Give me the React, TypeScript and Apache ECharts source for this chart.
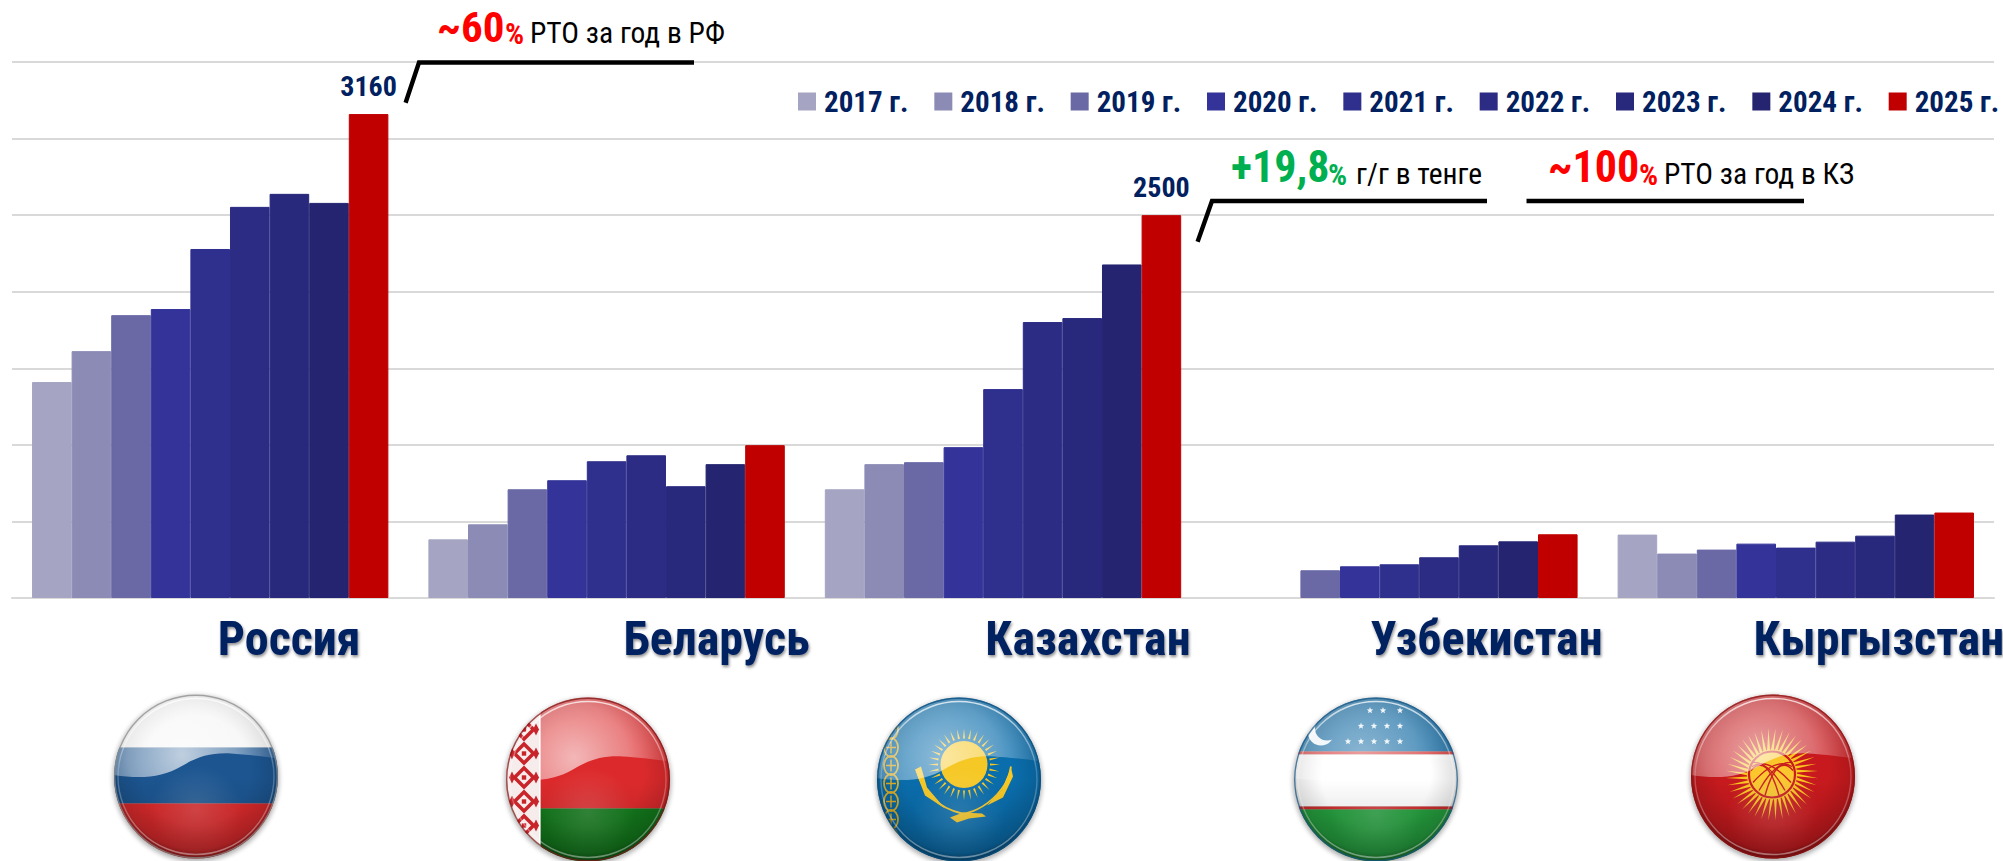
import React, { useEffect, useRef } from "react";
import * as echarts from "echarts";

const categories = ["Россия", "Беларусь", "Казахстан", "Узбекистан", "Кыргызстан"];
const labelShift = [79, 110, 85, 87, 83];
const years = ["2017 г.", "2018 г.", "2019 г.", "2020 г.", "2021 г.", "2022 г.", "2023 г.", "2024 г.", "2025 г."];
const colors = ["#A5A5C3", "#8B8BB6", "#6A69A6", "#333399", "#2F2F8E", "#2C2C85", "#28287D", "#242470", "#C00000"];

const v2017 = [1410, 383, 710, null, 414];
const v2018 = [1612, 481, 874, null, 290];
const v2019 = [1847, 710, 887, 181, 316];
const v2020 = [1887, 769, 985, 207, 355];
const v2021 = [2279, 893, 1364, 220, 329];
const v2022 = [2554, 932, 1802, 266, 368];
const v2023 = [2639, 730, 1828, 344, 407];
const v2024 = [2580, 874, 2178, 370, 545];
const v2025 = [3160, 998, 2500, 416, 558];
const allValues = [v2017, v2018, v2019, v2020, v2021, v2022, v2023, v2024, v2025];
const labelled = [3160, 2500];

const NARROW = "Roboto, sans-serif";
const NAVY = "#002060";

const R = 82;
const C = 88;

function wrap(body: string, gloss: number, rim: string, top: string = ""): string {
  const wave = `M${C - 90} ${C - 3} C${C - 60} ${C + 3} ${C - 35} ${C + 2} ${C - 15} ${C - 10} C${C + 2} ${C - 20} ${C + 15} ${C - 24} ${C + 35} ${C - 23} C${C + 50} ${C - 22} ${C + 70} ${C - 20} ${C + 90} ${C - 17} L${C + 90} ${C - 90} L${C - 90} ${C - 90} Z`;
  return (
    "data:image/svg+xml;charset=utf-8," +
    encodeURIComponent(`<svg xmlns="http://www.w3.org/2000/svg" width="176" height="176" viewBox="0 0 176 176">
<defs>
<clipPath id="c"><circle cx="${C}" cy="${C}" r="${R}"/></clipPath>
<filter id="s" x="-20%" y="-20%" width="140%" height="140%"><feGaussianBlur stdDeviation="2.5"/></filter>
<radialGradient id="g" gradientUnits="userSpaceOnUse" cx="${C - 14}" cy="${C - 22}" r="90">
<stop offset="0" stop-color="#fff" stop-opacity="${gloss}"/>
<stop offset="0.6" stop-color="#fff" stop-opacity="${gloss * 0.62}"/>
<stop offset="1" stop-color="#fff" stop-opacity="${gloss * 0.18}"/>
</radialGradient>
<radialGradient id="d" gradientUnits="userSpaceOnUse" cx="${C}" cy="${C - 6}" r="${R + 6}">
<stop offset="0.62" stop-color="#000" stop-opacity="0"/>
<stop offset="0.9" stop-color="#000" stop-opacity="0.12"/>
<stop offset="1" stop-color="#000" stop-opacity="0.38"/>
</radialGradient>
<linearGradient id="b" x1="0" y1="0" x2="0" y2="1">
<stop offset="0.5" stop-color="#000" stop-opacity="0"/>
<stop offset="1" stop-color="#000" stop-opacity="0.2"/>
</linearGradient>
<radialGradient id="h" gradientUnits="userSpaceOnUse" cx="${C}" cy="${C + 34}" r="46">
<stop offset="0" stop-color="#fff" stop-opacity="0.14"/>
<stop offset="1" stop-color="#fff" stop-opacity="0"/>
</radialGradient>
<linearGradient id="r" x1="0" y1="0" x2="0" y2="1">
<stop offset="0" stop-color="#fff" stop-opacity="0.75"/>
<stop offset="0.45" stop-color="#fff" stop-opacity="0.2"/>
<stop offset="1" stop-color="#fff" stop-opacity="0.4"/>
</linearGradient>
<mask id="m"><rect width="176" height="176" fill="#fff"/><circle cx="${C - 49}" cy="${C - 51}" r="12" fill="#000"/></mask>
</defs>
<circle cx="${C}" cy="${C + 2}" r="${R + 1}" fill="#000" opacity="0.32" filter="url(#s)"/>
<g clip-path="url(#c)">
${body}
<rect width="176" height="176" fill="url(#h)"/>
<rect width="176" height="176" fill="url(#b)"/>
<circle cx="${C}" cy="${C}" r="${R}" fill="url(#d)"/>
<path d="${wave}" fill="url(#g)"/>
${top}
</g>
<circle cx="${C}" cy="${C}" r="${R - 0.7}" fill="none" stroke="${rim}" stroke-opacity="0.75" stroke-width="1.4"/>
<circle cx="${C}" cy="${C}" r="${R - 4}" fill="none" stroke="url(#r)" stroke-width="1.4"/>
</svg>`)
  );
}

function band(y: number, h: number, fill: string): string {
  return `<rect x="0" y="${y}" width="176" height="${h}" fill="${fill}"/>`;
}

function star(x: number, y: number, r: number): string {
  const pts: string[] = [];
  for (let i = 0; i < 10; i++) {
    const a = -Math.PI / 2 + (i * Math.PI) / 5;
    const q = i % 2 ? r * 0.42 : r;
    pts.push(`${(x + q * Math.cos(a)).toFixed(1)},${(y + q * Math.sin(a)).toFixed(1)}`);
  }
  return `<polygon points="${pts.join(" ")}" fill="#fff" fill-opacity="0.9"/>`;
}

function rays(cx: number, cy: number, r0: number, r1: number, n: number, w: number, fill: string, skew: number): string {
  let out = "";
  for (let i = 0; i < n; i++) {
    const a = (i * 2 * Math.PI) / n;
    const ax = cx + r0 * Math.cos(a - w);
    const ay = cy + r0 * Math.sin(a - w);
    const bx = cx + r0 * Math.cos(a + w);
    const by = cy + r0 * Math.sin(a + w);
    const tx = cx + r1 * Math.cos(a + skew);
    const ty = cy + r1 * Math.sin(a + skew);
    out += `<polygon points="${ax.toFixed(1)},${ay.toFixed(1)} ${tx.toFixed(1)},${ty.toFixed(1)} ${bx.toFixed(1)},${by.toFixed(1)}" fill="${fill}"/>`;
  }
  return out;
}

const flagRu = wrap(
  band(0, C - 29, "#F3F3F3") + band(C - 29, 56, "#1C5590") + band(C + 27, 90, "#DB2A2C"),
  0.72,
  "#8A8A8A"
);

function beOrnament(): string {
  const RD = "#C8242A";
  const WH = "#F7ECEC";
  let out = `<rect x="0" y="0" width="${C - 49}" height="176" fill="${WH}"/><rect x="${C - 49}" y="0" width="1.6" height="176" fill="#fff"/>`;
  for (let y = 2; y < 176; y += 24) {
    const cx = C - 64;
    out += `<polygon points="${cx},${y} ${cx + 12},${y + 12} ${cx},${y + 24} ${cx - 12},${y + 12}" fill="${RD}"/>`;
    out += `<polygon points="${cx},${y + 5} ${cx + 7},${y + 12} ${cx},${y + 19} ${cx - 7},${y + 12}" fill="${WH}"/>`;
    out += `<rect x="${cx - 2.2}" y="${y + 9.8}" width="4.4" height="4.4" fill="${RD}"/>`;
    out += `<polygon points="${cx + 12},${y + 6} ${cx + 15},${y + 12} ${cx + 12},${y + 18} ${cx + 9},${y + 12}" fill="${RD}"/>`;
    out += `<polygon points="${cx - 12},${y + 6} ${cx - 9},${y + 12} ${cx - 12},${y + 18} ${cx - 15},${y + 12}" fill="${RD}"/>`;
  }
  return out;
}

const flagBy = wrap(
  band(0, C + 29, "#DC2A2C") + band(C + 29, 90, "#137A1C"),
  0.66,
  "#7F1A1A",
  beOrnament()
);

function kzOrnament(): string {
  let out = "";
  for (let y = 38; y < 150; y += 18) {
    out += `<ellipse cx="${C - 68}" cy="${y}" rx="7" ry="9.5" fill="none" stroke="#E2B52B" stroke-width="1.8"/>`;
    out += `<path d="M${C - 68} ${y - 6} V${y + 6} M${C - 73} ${y} H${C - 63}" stroke="#E2B52B" stroke-width="1.5"/>`;
  }
  return out;
}

const GOLD = "#F6C826";
const flagKz = wrap(
  band(0, 176, "#0A6DAC") +
    kzOrnament() +
    rays(C + 5, C - 15, 26, 36, 32, 0.04, GOLD, 0) +
    `<circle cx="${C + 5}" cy="${C - 15}" r="23.5" fill="${GOLD}"/>` +
    `<path d="M${C - 42} ${C - 9} C${C - 37} ${C + 12} ${C - 22} ${C + 28} ${C + 3} ${C + 34} C${C + 10} ${C + 34} ${C + 25} ${C + 29} ${C + 38} ${C + 15} C${C + 45} ${C + 7} ${C + 50} ${C} ${C + 52} ${C - 13}" fill="none" stroke="${GOLD}" stroke-width="1.8"/>` +
    `<path d="M${C - 44} ${C - 10} L${C - 38} ${C - 13} L${C - 32} ${C + 8} L${C - 14} ${C + 29} L${C - 34} ${C + 16} Z" fill="${GOLD}"/>` +
    `<path d="M${C + 52} ${C - 12} L${C + 43} ${C + 10} L${C + 28} ${C + 26} L${C + 44} ${C + 18} L${C + 54} ${C - 3} Z" fill="${GOLD}"/>` +
    `<path d="M${C - 9} ${C + 38} L${C + 4} ${C + 33} L${C + 23} ${C + 34} L${C + 27} ${C + 37} L${C + 10} ${C + 39} L${C - 2} ${C + 43} Z" fill="${GOLD}"/>`,
  0.55,
  "#0B4E7C"
);

let uzStars = "";
[
  [-6, 7, 24],
  [-15, -2, 11, 24],
  [-28, -15, -2, 11, 24],
].forEach((row, i) => row.forEach((dx) => (uzStars += star(C + dx, C - 69 + i * 15.5, 3.4))));

const flagUz = wrap(
  band(0, C - 28, "#1A6FA6") +
    band(C - 28, 3, "#D83A3A") +
    band(C - 25, 52, "#FFFFFF") +
    band(C + 27, 3, "#D02E2E") +
    band(C + 30, 60, "#25A03F"),
  0.5,
  "#1B5A86",
  `<circle cx="${C - 55}" cy="${C - 47}" r="13" fill="#fff" fill-opacity="0.92" mask="url(#m)"/>` + uzStars
);

const KR = "#C81A1E";
const flagKg = wrap(
  band(0, 176, KR) +
    rays(C - 1, C - 2, 22, 46, 40, 0.075, "#FBC41E", 0.08) +
    `<circle cx="${C - 1}" cy="${C - 2}" r="25" fill="#FBC62A"/>` +
    `<circle cx="${C - 1}" cy="${C - 2}" r="23" fill="none" stroke="${KR}" stroke-width="2.2"/>` +
    `<g fill="none" stroke="${KR}" stroke-width="1.4">` +
    `<path d="M${C - 21} ${C - 10} Q${C - 5} ${C - 20} ${C + 18} ${C + 6}"/>` +
    `<path d="M${C - 21} ${C - 14} Q${C - 5} ${C - 16} ${C + 12} ${C + 14}"/>` +
    `<path d="M${C - 22} ${C - 6} Q${C - 6} ${C - 24} ${C + 6} ${C + 19}"/>` +
    `<path d="M${C + 19} ${C - 10} Q${C + 3} ${C - 20} ${C - 20} ${C + 6}"/>` +
    `<path d="M${C + 19} ${C - 14} Q${C + 3} ${C - 16} ${C - 14} ${C + 14}"/>` +
    `<path d="M${C + 20} ${C - 6} Q${C + 4} ${C - 24} ${C - 8} ${C + 19}"/>` +
    `</g>`,
  0.6,
  "#8A1414"
);

const flags = [
  { src: flagRu, cx: 196, cy: 776.5 },
  { src: flagBy, cx: 588, cy: 779.5 },
  { src: flagKz, cx: 959, cy: 779.5 },
  { src: flagUz, cx: 1376, cy: 779.5 },
  { src: flagKg, cx: 1773, cy: 776.5 },
];

function note(x: number, y: number, text: string, size: number, fill: string, weight: string) {
  return {
    type: "text",
    x,
    y,
    z: 20,
    style: {
      text,
      fill,
      fontSize: size,
      fontWeight: weight,
      fontFamily: NARROW,
      textAlign: "left",
      textVerticalAlign: "bottom",
    },
  };
}

function polyline(points: number[][]) {
  return {
    type: "polyline",
    z: 20,
    shape: { points },
    style: { stroke: "#000", lineWidth: 4.4, fill: "none", lineJoin: "miter" },
  };
}

export default function App() {
  const ref = useRef<HTMLDivElement>(null);
  useEffect(() => {
    const st = document.createElement("style");
    st.textContent = "svg text{font-stretch:75% !important;}";
    document.head.appendChild(st);
    const chart = echarts.init(ref.current!, undefined, { renderer: "svg" });
    chart.setOption({
      animation: false,
      backgroundColor: "#fff",
      grid: { left: 12, right: 9, top: 62, bottom: 263, containLabel: false, outerBoundsMode: "none" },
      legend: {
        left: 793,
        top: 82,
        width: 1500,
        icon: "rect",
        itemWidth: 16,
        itemHeight: 16,
        itemGap: 16,
        data: years,
        selectedMode: false,
        textStyle: { color: NAVY, fontSize: 29, fontWeight: "bold", fontFamily: NARROW, padding: [0, 0, 0, 4] },
      },
      xAxis: {
        type: "category",
        data: categories.map((value, i) => ({ value, textStyle: { padding: [0, 0, 0, labelShift[i] * 2] } })),
        axisLine: { lineStyle: { color: "#D9D9D9", width: 2 } },
        axisTick: { show: false },
        axisLabel: {
          interval: 0,
          margin: 16,
          hideOverlap: false,
          fontSize: 48,
          fontWeight: "bold",
          fontFamily: NARROW,
          color: NAVY,
          textShadowColor: "rgba(0,0,0,0.45)",
          textShadowBlur: 3,
          textShadowOffsetX: 1,
          textShadowOffsetY: 2,
        },
      },
      yAxis: {
        type: "value",
        min: 0,
        max: 3500,
        interval: 500,
        axisLabel: { show: false },
        axisLine: { show: false },
        axisTick: { show: false },
        splitLine: { lineStyle: { color: "#D9D9D9", width: 2 } },
      },
      series: years.map((name, i) => ({
        name,
        type: "bar",
        barGap: 0,
        barCategoryGap: "10.1%",
        itemStyle: { color: colors[i], borderColor: colors[i], borderWidth: 1 },
        data: allValues[i],
        label: {
          show: i === years.length - 1,
          position: "top",
          distance: 14,
          color: NAVY,
          fontSize: 28,
          fontWeight: "bold",
          fontFamily: NARROW,
          formatter: (p: any) => (labelled.includes(p.value) ? String(p.value) : ""),
        },
      })),
      graphic: [
        ...flags.map((f) => ({
          type: "image",
          x: f.cx - C,
          y: f.cy - C,
          z: 5,
          style: { image: f.src, width: 176, height: 176 },
        })),
        polyline([[405.6, 102.7], [419, 62.5], [694, 62.5]]),
        polyline([[1197.6, 241.7], [1212, 201], [1487, 201]]),
        polyline([[1526.5, 201], [1804, 201]]),
        note(437, 48, "~60", 43, "#FF0000", "bold"),
        note(505, 48, "%", 30, "#FF0000", "bold"),
        note(530, 48, "РТО за год в РФ", 29.5, "#000", "normal"),
        note(1231, 189, "+19,8", 44, "#00B050", "bold"),
        note(1328, 189, "%", 30, "#00B050", "bold"),
        note(1356, 189, "г/г в тенге", 29.5, "#000", "normal"),
        note(1548, 189, "~100", 44, "#FF0000", "bold"),
        note(1639, 189, "%", 30, "#FF0000", "bold"),
        note(1664, 189, "РТО за год в КЗ", 29.5, "#000", "normal"),
      ],
    });
    return () => {
      chart.dispose();
      st.remove();
    };
  }, []);
  return <div ref={ref} style={{ position: "absolute", left: 0, top: 0, width: 2003, height: 861 }} />;
}
